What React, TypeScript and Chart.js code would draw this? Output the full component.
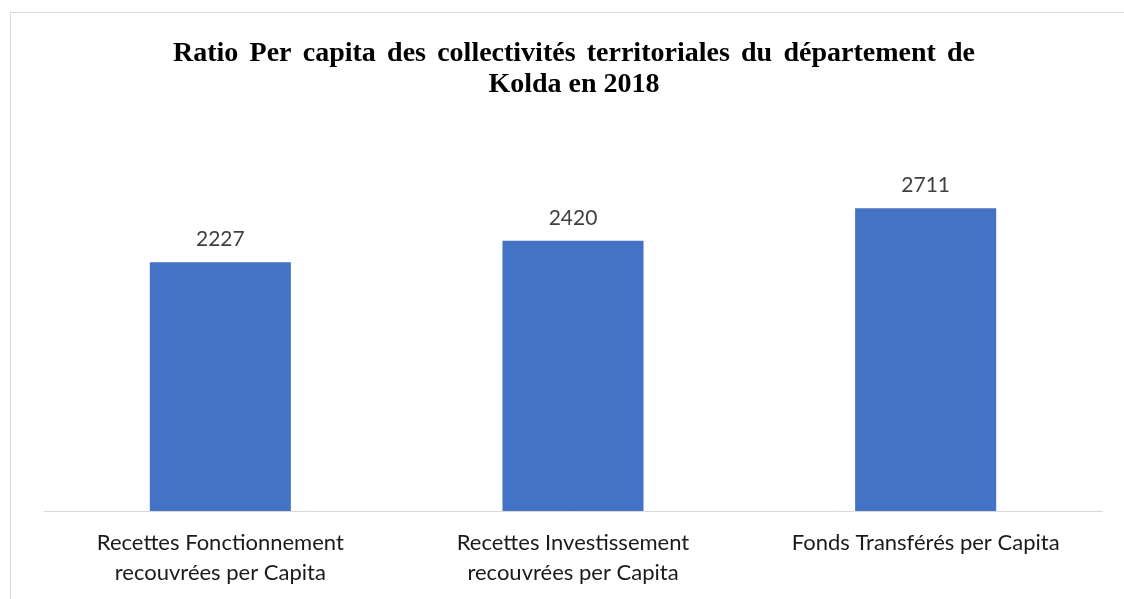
import React, { useEffect, useRef } from "react";
import { Chart, registerables } from "chart.js";

Chart.register(...registerables);

const categories: string[][] = [
  ["Recettes Fonctionnement", "recouvrées per Capita"],
  ["Recettes Investissement", "recouvrées per Capita"],
  ["Fonds Transférés per Capita"],
];
const values: number[] = [2227, 2420, 2711];
const titleLines: string[] = [
  "Ratio Per capita des collectivités territoriales du département de",
  "Kolda en 2018",
];
const yMax = 3000;

const TITLE_FONT = "bold 28px 'Liberation Serif', 'Times New Roman', serif";
const TITLE_WIDTH = 802;

const titlePlugin = {
  id: "justifiedTitle",
  afterDraw(chart: any) {
    const ctx = chart.ctx;
    const area = chart.chartArea;
    const cx = (area.left + area.right) / 2;
    ctx.save();
    ctx.font = TITLE_FONT;
    ctx.fillStyle = "#000000";
    ctx.textBaseline = "alphabetic";
    // line 1: justified
    const words = titleLines[0].split(" ");
    const wordWidths = words.map((w: string) => ctx.measureText(w).width);
    const total = wordWidths.reduce((a: number, b: number) => a + b, 0);
    const gap = (TITLE_WIDTH - total) / (words.length - 1);
    let x = cx + 1 - TITLE_WIDTH / 2;
    ctx.textAlign = "left";
    words.forEach((w: string, i: number) => {
      ctx.fillText(w, x, 61);
      x += wordWidths[i] + gap;
    });
    // line 2: centered
    ctx.textAlign = "center";
    ctx.fillText(titleLines[1], cx + 1, 92);
    ctx.restore();
  },
};

const labelPlugin = {
  id: "barLabels",
  afterDatasetsDraw(chart: any) {
    const ctx = chart.ctx;
    const meta = chart.getDatasetMeta(0);
    ctx.save();
    ctx.font = "21px Lato";
    ctx.fillStyle = "#404040";
    ctx.textAlign = "center";
    ctx.textBaseline = "alphabetic";
    meta.data.forEach((el: any, i: number) => {
      ctx.fillText(String(values[i]), el.x, el.y - 16);
    });
    ctx.restore();
  },
};

export default function App() {
  const ref = useRef<HTMLCanvasElement>(null);
  useEffect(() => {
    if (!ref.current) return;
    const chart = new Chart(ref.current, {
      type: "bar",
      data: {
        labels: categories,
        datasets: [
          {
            data: values,
            backgroundColor: "#4472C4",
            borderWidth: 0,
            barPercentage: 0.4,
            categoryPercentage: 1,
          },
        ],
      },
      options: {
        responsive: false,
        animation: false,
        layout: { padding: { left: 44, right: 22, top: 176, bottom: 14 } },
        plugins: {
          legend: { display: false },
          tooltip: { enabled: false },
          title: { display: false },
        },
        scales: {
          x: {
            grid: { display: false, drawTicks: false },
            border: { display: true, color: "#d9d9d9", width: 1 },
            ticks: {
              color: "#1a1a1a",
              font: { family: "Lato", size: 22, lineHeight: 30 / 22 },
              padding: 17,
              maxRotation: 0,
              autoSkip: false,
            },
          },
          y: {
            display: false,
            min: 0,
            max: yMax,
          },
        },
      },
      plugins: [labelPlugin, titlePlugin],
    });
    return () => chart.destroy();
  }, []);
  return (
    <div
      style={{
        position: "fixed",
        left: 0,
        top: 0,
        width: 1124,
        height: 599,
        overflow: "hidden",
        background: "#ffffff",
      }}
    >
      <div
        style={{
          position: "absolute",
          left: 10,
          top: 12,
          width: 1300,
          height: 800,
          border: "1px solid #d9d9d9",
        }}
      />
      <canvas
        ref={ref}
        width={1124}
        height={619}
        style={{ position: "absolute", left: 0, top: 0, width: 1124, height: 619 }}
      />
    </div>
  );
}
